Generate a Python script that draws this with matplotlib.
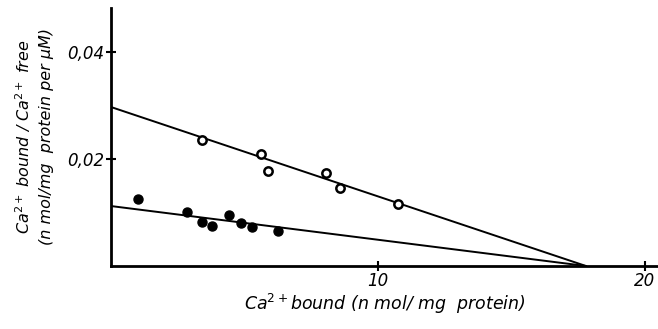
import numpy as np
import matplotlib.pyplot as plt

# -------------------
# Data
# -------------------

# open circles (upper series)
open_x = [3.40, 5.62, 5.87, 8.07, 8.58, 10.74]
open_y = [0.0236, 0.0209, 0.0178, 0.0173, 0.0146, 0.0116]

# filled circles (lower series)
fill_x = [1.00, 2.83, 3.40, 3.77, 4.42, 4.86, 5.29, 6.27]
fill_y = [0.0125, 0.0100, 0.0082, 0.0075, 0.0095, 0.0080, 0.0072, 0.0065]

# fitted Scatchard lines: intercepts on y axis and common x intercept
upper_y0 = 0.0297
lower_y0 = 0.0112
x_icpt = 17.8

xticks = [10, 20]
yticks = [0.02, 0.04]
yticklabels = ["0,02", "0,04"]

# -------------------
# Figure
# -------------------

plt.rcParams['font.family'] = ['DejaVu Sans']

fig = plt.figure(figsize=(6.58, 3.29), dpi=100)
ax = fig.add_axes([111/658, 1-266/329, 1-111/658, 258/329])

ax.plot([0, x_icpt], [upper_y0, 0], color="black", linewidth=1.4)
ax.plot([0, x_icpt], [lower_y0, 0], color="black", linewidth=1.4)

ax.plot(open_x, open_y, "o", markersize=6,
        markerfacecolor="white", markeredgecolor="black",
        markeredgewidth=1.8)
ax.plot(fill_x, fill_y, "o", markersize=6.5,
        color="black")

ax.set_xlim(0, 20.5)
ax.set_ylim(0, 0.0482)

ax.spines["top"].set_visible(False)
ax.spines["right"].set_visible(False)
ax.spines["left"].set_linewidth(2)
ax.spines["bottom"].set_linewidth(2)

ax.set_xticks(xticks)
ax.set_xticklabels([str(t) for t in xticks], style="italic", fontsize=12)
ax.set_yticks(yticks)
ax.set_yticklabels(yticklabels, style="italic", fontsize=12)
ax.tick_params(direction="inout", length=7, width=1.5, pad=1)

ax.set_xlabel("Ca$^{2+}$bound (n mol/ mg  protein)",
              style="italic", fontsize=12.5, labelpad=1)
ax.set_ylabel("Ca$^{2+}$ bound / Ca$^{2+}$ free\n"
              "(n mol/mg  protein per \u00b5M)",
              style="italic", fontsize=11.5, labelpad=10,
              linespacing=1.5)

fig.savefig("out.png", dpi=100)
